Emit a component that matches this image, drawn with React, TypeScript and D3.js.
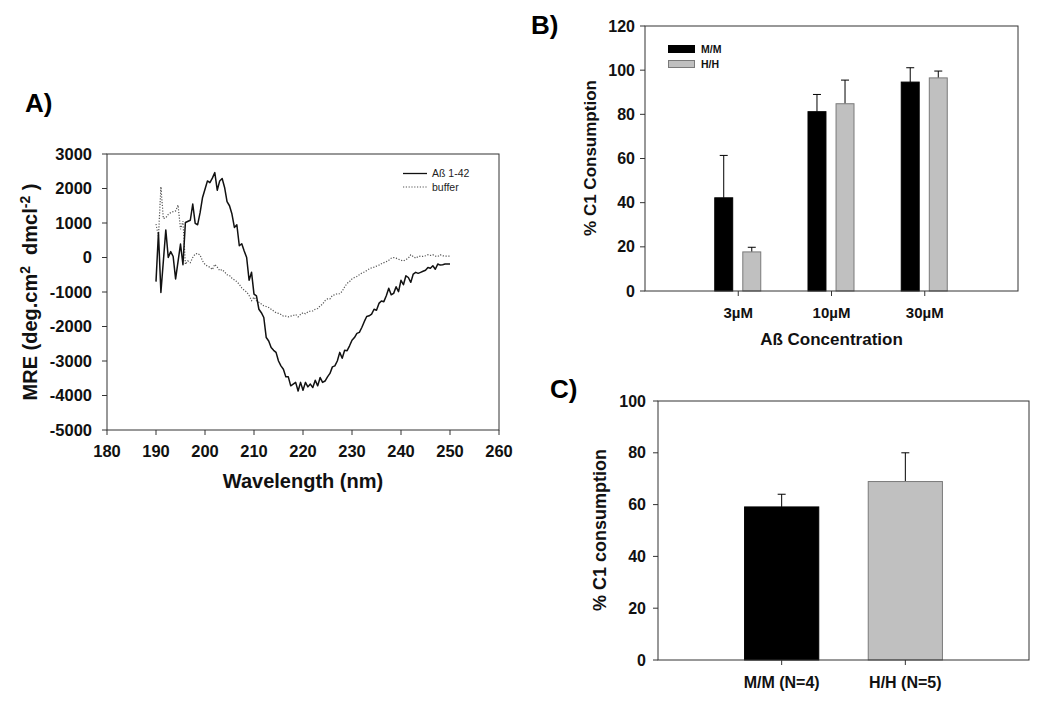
import React from "react";
import * as d3 from "d3";

// ---------- Panel A data ----------
const abetaSeries: [number, number][] = [
  [190,-700],[190.5,720],[191,-1015],[192,800],[192.5,0],[193,170],[193.5,30],[194,-620],[195,390],[195.5,-210],
  [196,1015],[197,1080],[197.5,1550],[198,990],[198.5,950],[199,1300],[199.5,1740],[200,1980],[200.5,2220],[201,2170],
  [201.5,2300],[202,2460],[202.5,1950],[203,2220],[203.5,2290],[204,2030],[204.5,1620],[205,1500],[205.5,1260],[206,870],
  [206.5,950],[207,340],[207.5,400],[208,190],[208.5,0],[209,-660],[209.5,-430],[210,-1060],[210.5,-1110],[211,-1500],
  [211.5,-1600],[212,-1740],[212.5,-2320],[213,-2420],[213.5,-2610],[214,-2690],[214.5,-2750],[215,-3000],[215.5,-3140],
  [216,-3240],[216.5,-3460],[217,-3460],[217.5,-3720],[218,-3670],[218.5,-3620],[219,-3870],[219.5,-3620],[220,-3850],
  [220.5,-3620],[221,-3750],[221.5,-3670],[222,-3770],[222.5,-3560],[223,-3720],[223.5,-3480],[224,-3620],[224.5,-3580],
  [225,-3460],[225.5,-3360],[226,-3170],[226.5,-3140],[227,-3000],[227.5,-2750],[228,-2920],[228.5,-2690],[229,-2700],
  [229.5,-2560],[230,-2400],[230.5,-2320],[231,-2200],[231.5,-2170],[232,-2030],[232.5,-1860],[233,-1710],[233.5,-1690],
  [234,-1640],[234.5,-1500],[235,-1530],[235.5,-1330],[236,-1260],[236.5,-1280],[237,-1110],[237.5,-890],[238,-1080],
  [238.5,-1040],[239,-850],[239.5,-990],[240,-660],[240.5,-790],[241,-530],[241.5,-580],[242,-720],[242.5,-480],
  [243,-430],[243.5,-460],[244,-430],[244.5,-400],[245,-370],[245.5,-290],[246,-310],[246.5,-240],[247,-340],
  [247.5,-190],[248,-220],[248.5,-210],[249,-190],[250,-190]
];

const bufferSeries: [number, number][] = [
  [190,970],[190.5,600],[191,2050],[191.5,1130],[192,1150],[192.5,1250],[193,1300],[193.5,1330],[194,1350],[194.5,1520],
  [195,820],[195.5,1050],[196,-200],[196.5,-100],[197,-150],[197.5,0],[198,100],[198.5,120],[199,70],[199.5,-100],
  [200,-200],[200.5,-250],[201,-280],[201.5,-350],[202,-200],[202.5,-280],[203,-380],[203.5,-350],[204,-420],[204.5,-500],
  [205,-520],[205.5,-600],[206,-650],[206.5,-700],[207,-780],[207.5,-880],[208,-950],[208.5,-1000],[209,-1100],[209.5,-1250],
  [210,-1150],[210.5,-1250],[211,-1300],[211.5,-1350],[212,-1400],[212.5,-1420],[213,-1450],[213.5,-1500],[214,-1550],
  [214.5,-1600],[215,-1620],[215.5,-1650],[216,-1700],[216.5,-1700],[217,-1720],[217.5,-1700],[218,-1680],[218.5,-1650],
  [219,-1720],[219.5,-1650],[220,-1600],[220.5,-1630],[221,-1580],[221.5,-1550],[222,-1550],[222.5,-1500],[223,-1480],
  [223.5,-1400],[224,-1350],[224.5,-1250],[225,-1200],[225.5,-1200],[226,-1100],[226.5,-1080],[227,-1050],[227.5,-1050],
  [228,-980],[228.5,-850],[229,-750],[229.5,-700],[230,-620],[230.5,-580],[231,-550],[231.5,-500],[232,-450],[232.5,-420],
  [233,-380],[233.5,-330],[234,-300],[234.5,-280],[235,-250],[235.5,-220],[236,-180],[236.5,-150],[237,-120],[237.5,-80],
  [238,-20],[238.5,0],[239,-20],[239.5,-50],[240,-80],[240.5,-100],[241,-60],[241.5,-20],[242,80],[242.5,30],[243,-20],
  [243.5,30],[244,40],[244.5,30],[245,50],[245.5,80],[246,60],[246.5,80],[247,40],[247.5,30],[248,80],[248.5,50],
  [249,40],[250,40]
];
const aXTicks = [180, 190, 200, 210, 220, 230, 240, 250, 260];
const aYTicks = [-5000, -4000, -3000, -2000, -1000, 0, 1000, 2000, 3000];

// ---------- Panel B data ----------
const bCategories = ["3µM", "10µM", "30µM"];
const bSeriesNames = ["M/M", "H/H"];
const bMM = [42.2, 81.2, 94.6];
const bMMErr = [19.2, 7.8, 6.5];
const bHH = [17.7, 84.8, 96.5];
const bHHErr = [2.1, 10.7, 3.1];
const bYTicks = [0, 20, 40, 60, 80, 100, 120];

// ---------- Panel C data ----------
const cCategories = ["M/M (N=4)", "H/H (N=5)"];
const cValues = [59.1, 68.9];
const cErr = [4.9, 11.1];
const cYTicks = [0, 20, 40, 60, 80, 100];

const FONT = "'Liberation Sans', Arial, Helvetica, sans-serif";
const AXIS = "#333";
const BLACK_FILL = "#000000";
const GREY_FILL = "#c0c0c0";
const GREY_STROKE = "#7a7a7a";

function Box({ x0, x1, y0, y1 }: { x0: number; x1: number; y0: number; y1: number }) {
  return <rect x={x0} y={y0} width={x1 - x0} height={y1 - y0} fill="none" stroke={AXIS} strokeWidth={1} />;
}

function YAxis({ scale, ticks, x, fontSize, pad }: any) {
  return (
    <g>
      {ticks.map((t: number) => (
        <g key={t}>
          <line x1={x - 5} x2={x} y1={scale(t)} y2={scale(t)} stroke={AXIS} strokeWidth={1} />
          <text x={x - pad} y={scale(t)} dy="0.35em" textAnchor="end" fontFamily={FONT} fontWeight="bold" fontSize={fontSize} fill="#111">
            {t}
          </text>
        </g>
      ))}
    </g>
  );
}

function XAxisTicks({ positions, labels, y, fontSize, labelY }: any) {
  return (
    <g>
      {positions.map((p: number, i: number) => (
        <g key={i}>
          <line x1={p} x2={p} y1={y} y2={y + 5} stroke={AXIS} strokeWidth={1} />
          <text x={p} y={labelY} textAnchor="middle" fontFamily={FONT} fontWeight="bold" fontSize={fontSize} fill="#111">
            {labels[i]}
          </text>
        </g>
      ))}
    </g>
  );
}

function ErrorBar({ x, y0, y1 }: { x: number; y0: number; y1: number }) {
  return (
    <g>
      <line x1={x} x2={x} y1={y0} y2={y1} stroke="#000" strokeWidth={1} />
      <line x1={x - 4} x2={x + 4} y1={y1} y2={y1} stroke="#000" strokeWidth={1} />
    </g>
  );
}

export default function App() {
  // Panel A
  const ax = d3.scaleLinear().domain([180, 260]).range([107, 499]);
  const ay = d3.scaleLinear().domain([-5000, 3000]).range([430, 154]);
  const line = d3.line<[number, number]>().x((d) => ax(d[0])).y((d) => ay(d[1]));

  // Panel B
  const bx = d3.scalePoint<string>().domain(bCategories).range([645, 1018]).padding(1);
  const bInner = d3.scaleBand<string>().domain(bSeriesNames).range([-23.5, 22.5]).paddingInner(0.36);
  const by = d3.scaleLinear().domain([0, 120]).range([291, 26]);
  const bSeries = [
    { name: "M/M", values: bMM, errs: bMMErr, fill: BLACK_FILL, stroke: "#000" },
    { name: "H/H", values: bHH, errs: bHHErr, fill: GREY_FILL, stroke: GREY_STROKE },
  ];

  // Panel C
  const cx = d3.scalePoint<string>().domain(cCategories).range([658, 1029]).padding(1);
  const cy = d3.scaleLinear().domain([0, 100]).range([660, 401]);
  const cBarW = cx.step() * 0.6;
  const cFills = [BLACK_FILL, GREY_FILL];
  const cStrokes = ["#000", GREY_STROKE];

  return (
    <svg width={1050} height={706} style={{ position: "absolute", left: 0, top: 0, display: "block", background: "#fff" }}>
      <rect x={0} y={0} width={1050} height={706} fill="#fff" />

      {/* ===== Panel A ===== */}
      <text x={25} y={112} fontFamily={FONT} fontWeight="bold" fontSize={26} fill="#000">A)</text>
      <path d={line(bufferSeries) || ""} fill="none" stroke="#555" strokeWidth={1.2} strokeDasharray="1.2 1.6" />
      <path d={line(abetaSeries) || ""} fill="none" stroke="#111" strokeWidth={1.5} strokeLinejoin="round" />
      <Box x0={107} x1={499} y0={154} y1={430} />
      <YAxis scale={ay} ticks={aYTicks} x={107} fontSize={16.5} pad={15} />
      <XAxisTicks positions={aXTicks.map((t) => ax(t))} labels={aXTicks} y={430} fontSize={16.5} labelY={457} />
      <text x={303} y={488} textAnchor="middle" fontFamily={FONT} fontWeight="bold" fontSize={20} fill="#111">Wavelength (nm)</text>
      <text transform="translate(37,292) rotate(-90)" textAnchor="middle" fontFamily={FONT} fontWeight="bold" fontSize={20} fill="#111">
        MRE (deg.cm<tspan dy={-7} fontSize={14}>2</tspan><tspan dy={7}>{"\u00a0 dmcl"}</tspan><tspan dy={-7} fontSize={14}>-2</tspan><tspan dy={7}>{"\u00a0)"}</tspan>
      </text>
      {/* legend A */}
      <line x1={403} x2={427} y1={173.5} y2={173.5} stroke="#111" strokeWidth={1.3} />
      <text x={432} y={177} fontFamily={FONT} fontSize={10.5} fill="#222">Aß 1-42</text>
      <line x1={403} x2={427} y1={187} y2={187} stroke="#555" strokeWidth={1.2} strokeDasharray="1.2 1.6" />
      <text x={432} y={190.5} fontFamily={FONT} fontSize={10.5} fill="#222">buffer</text>

      {/* ===== Panel B ===== */}
      <text x={531} y={34} fontFamily={FONT} fontWeight="bold" fontSize={26} fill="#000">B)</text>
      {bSeries.map((s) =>
        bCategories.map((c, i) => {
          const x0 = (bx(c) as number) + (bInner(s.name) as number);
          const w = bInner.bandwidth();
          return (
            <g key={s.name + c}>
              <ErrorBar x={x0 + w / 2} y0={by(s.values[i])} y1={by(s.values[i] + s.errs[i])} />
              <rect x={x0} y={by(s.values[i])} width={w} height={by(0) - by(s.values[i])} fill={s.fill} stroke={s.stroke} strokeWidth={1} />
            </g>
          );
        })
      )}
      <Box x0={645} x1={1018} y0={26} y1={291} />
      <YAxis scale={by} ticks={bYTicks} x={645} fontSize={16} pad={10} />
      <XAxisTicks positions={bCategories.map((c) => bx(c) as number)} labels={bCategories} y={291} fontSize={15} labelY={318} />
      <text x={831.5} y={345} textAnchor="middle" fontFamily={FONT} fontWeight="bold" fontSize={17} fill="#111">Aß Concentration</text>
      <text transform="translate(596,158) rotate(-90)" textAnchor="middle" fontFamily={FONT} fontWeight="bold" fontSize={17} fill="#111">% C1 Consumption</text>
      {/* legend B */}
      <rect x={668.5} y={45.5} width={26} height={7} fill={BLACK_FILL} stroke="#000" />
      <text x={701} y={53} fontFamily={FONT} fontWeight="bold" fontSize={10.5} fill="#111">M/M</text>
      <rect x={668.5} y={60.5} width={26} height={7} fill={GREY_FILL} stroke={GREY_STROKE} />
      <text x={701} y={68} fontFamily={FONT} fontWeight="bold" fontSize={10.5} fill="#111">H/H</text>

      {/* ===== Panel C ===== */}
      <text x={550} y={398} fontFamily={FONT} fontWeight="bold" fontSize={26} fill="#000">C)</text>
      {cCategories.map((c, i) => {
        const xc = cx(c) as number;
        return (
          <g key={c}>
            <ErrorBar x={xc} y0={cy(cValues[i])} y1={cy(cValues[i] + cErr[i])} />
            <rect x={xc - cBarW / 2} y={cy(cValues[i])} width={cBarW} height={cy(0) - cy(cValues[i])} fill={cFills[i]} stroke={cStrokes[i]} strokeWidth={1} />
          </g>
        );
      })}
      <Box x0={658} x1={1029} y0={401} y1={660} />
      <YAxis scale={cy} ticks={cYTicks} x={658} fontSize={16} pad={12} />
      <XAxisTicks positions={cCategories.map((c) => cx(c) as number)} labels={cCategories} y={660} fontSize={16} labelY={688} />
      <text transform="translate(606,530) rotate(-90)" textAnchor="middle" fontFamily={FONT} fontWeight="bold" fontSize={18} fill="#111">% C1 consumption</text>
    </svg>
  );
}
